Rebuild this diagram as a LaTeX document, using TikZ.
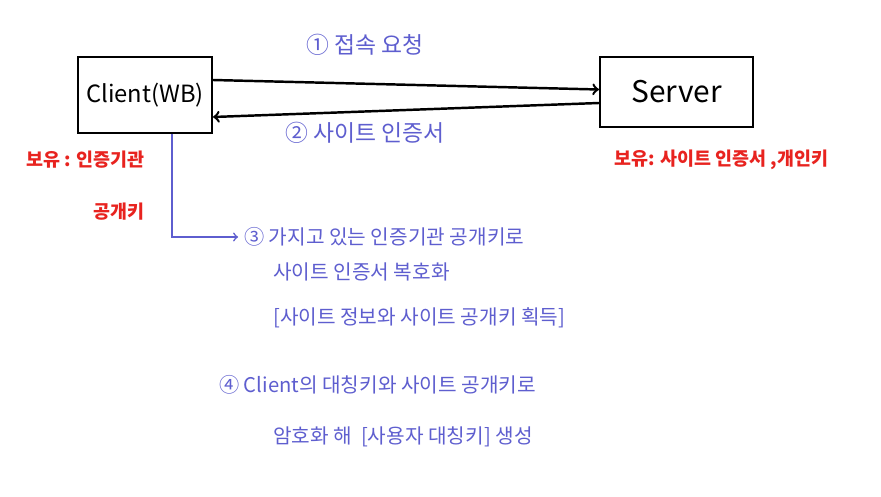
\documentclass[tikz,border=0pt]{standalone}
\usepackage{fontspec}
\setmainfont{Noto Sans CJK KR}
\usetikzlibrary{arrows, positioning}
\definecolor{pen}{HTML}{5E5ECF}
\definecolor{redpen}{HTML}{E8231F}

\begin{document}
\begin{tikzpicture}
        \useasboundingbox[fill=white] (0,0) rectangle (17.62,9.92);
        \tikzset{
            box/.style={draw, line width=1.2pt, minimum width=2.68cm, minimum height=1.52cm},
            note/.style={text=pen, font=\fontsize{11.5}{13}\selectfont},
            hold/.style={text=redpen, font=\fontsize{10.5}{12}\selectfont\bfseries}
        }

        % Boxes
        \node[box, font=\fontsize{13.5}{15}\selectfont] (client) at (2.90,8.02) {Client(WB)};
        \node[box, minimum width=3.06cm, minimum height=1.40cm, font=\fontsize{17}{19}\selectfont] (server) at (13.53,8.08) {Server};

        % Connectors between client and server
        \draw[line width=1.4pt,->] ([yshift=0.30cm]client.east) -- ([yshift=0.05cm]server.west);
        \draw[line width=1.4pt,->] ([yshift=-0.22cm]server.west) -- ([yshift=-0.44cm]client.east);
        \node[note, font=\fontsize{13}{15}\selectfont] (req) at (7.30,9.02) {① 접속 요청};
        \node[note, font=\fontsize{13}{15}\selectfont] (cert) at (7.30,7.26) {② 사이트 인증서};

        % Held keys
        \node[hold, anchor=east] (heldc1) at (3.02,6.72) {보유 : 인증기관};
        \node[hold, anchor=east] (heldc2) at (3.02,5.68) {공개키};
        \node[hold] (helds) at (14.43,6.72) {보유: 사이트 인증서 ,개인키};

        % Step 3
        \node[note, anchor=west] (stepa) at (4.76,5.18) {③ 가지고 있는 인증기관 공개키로};
        \node[note, anchor=west] (stepb) at (5.34,4.48) {사이트 인증서 복호화};
        \node[note, anchor=west] (stepc) at (5.34,3.56) {[사이트 정보와 사이트 공개키 획득]};
        \draw[pen, line width=0.9pt, ->] ([xshift=0.54cm]client.south) |- (stepa.west);

        % Step 4
        \node[note, anchor=west] (stepd) at (4.26,2.22) {④ Client의 대칭키와 사이트 공개키로};
        \node[note, anchor=west] (stepe) at (5.34,1.18) {암호화 해 \ [사용자 대칭키] 생성};
    \end{tikzpicture}
\end{document}
